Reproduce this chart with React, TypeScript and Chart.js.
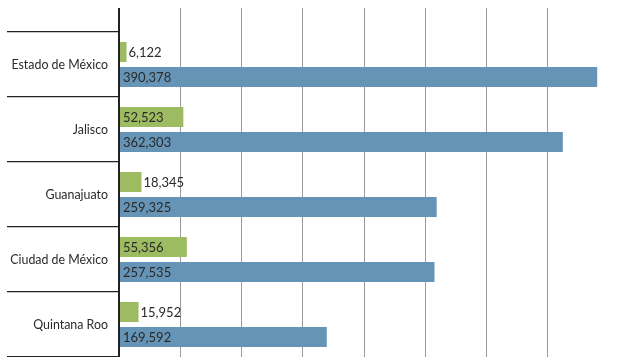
import React, { useEffect, useRef } from "react";
import { Chart, registerables } from "chart.js";

Chart.register(...registerables);

const categories = ["Estado de México", "Jalisco", "Guanajuato", "Ciudad de México", "Quintana Roo"];
const greenValues = [6122, 52523, 18345, 55356, 15952];
const blueValues = [390378, 362303, 259325, 257535, 169592];
const xTicks = [0, 50000, 100000, 150000, 200000, 250000, 300000, 350000, 400000];

const GREEN = "#9dbb61";
const BLUE = "#6594b6";
const FONT = "Lato";
const TEXT = "#2a2a2a";

const labelPlugin = {
  id: "valueLabels",
  afterDatasetsDraw(chart: any) {
    const ctx = chart.ctx;
    ctx.save();
    ctx.font = `13px ${FONT}`;
    ctx.textBaseline = "middle";
    ctx.fillStyle = TEXT;
    chart.data.datasets.forEach((ds: any, di: number) => {
      const meta = chart.getDatasetMeta(di);
      meta.data.forEach((bar: any, i: number) => {
        const v = ds.data[i] as number;
        const txt = v.toLocaleString("en-US");
        const w = ctx.measureText(txt).width;
        const left = bar.base;
        const right = bar.x;
        let x: number;
        if (right - left >= w + 6) {
          x = left + 3;
        } else {
          x = right + 2;
        }
        ctx.textAlign = "left";
        ctx.fillText(txt, x, bar.y + 1);
      });
    });
    ctx.restore();
  },
};

export default function App() {
  const ref = useRef<HTMLCanvasElement>(null);
  useEffect(() => {
    if (!ref.current) return;
    const chart = new Chart(ref.current, {
      type: "bar",
      data: {
        labels: categories,
        datasets: [
          { data: greenValues, backgroundColor: GREEN, categoryPercentage: 0.77, barPercentage: 0.8 },
          { data: blueValues, backgroundColor: BLUE, categoryPercentage: 0.77, barPercentage: 0.8 },
        ],
      },
      options: {
        indexAxis: "y",
        animation: false,
        responsive: false,
        maintainAspectRatio: false,
        layout: { padding: { top: 8, left: 0, right: 28, bottom: 0 } },
        plugins: { legend: { display: false }, tooltip: { enabled: false } },
        scales: {
          x: {
            position: "top",
            min: 0,
            max: 400000,
            afterBuildTicks: (scale: any) => {
              scale.ticks = xTicks.map((v) => ({ value: v }));
            },
            ticks: { display: false },
            border: { display: false },
            grid: {
              drawTicks: true,
              tickLength: 24,
              color: (c: any) =>
                c.index === 0 ? "#222" : c.tick && c.tick.value === 400000 ? "rgba(0,0,0,0)" : "#999",
              lineWidth: (c: any) => (c.index === 0 ? 2 : 1),
            },
          },
          y: {
            afterFit: (scale: any) => {
              scale.width = 119;
            },
            border: { display: true, color: "#222", width: 2 },
            grid: {
              offset: true,
              drawOnChartArea: false,
              drawTicks: true,
              tickLength: 112,
              color: "#222",
              lineWidth: 1.2,
            },
            ticks: {
              padding: -101,
              color: TEXT,
              font: { family: FONT, size: 12.4 },
            },
          },
        },
      },
      plugins: [labelPlugin],
    });
    return () => chart.destroy();
  }, []);
  return (
    <canvas
      ref={ref}
      width={637}
      height={357}
      style={{ position: "fixed", left: 0, top: 0, width: 637, height: 357 }}
    />
  );
}
